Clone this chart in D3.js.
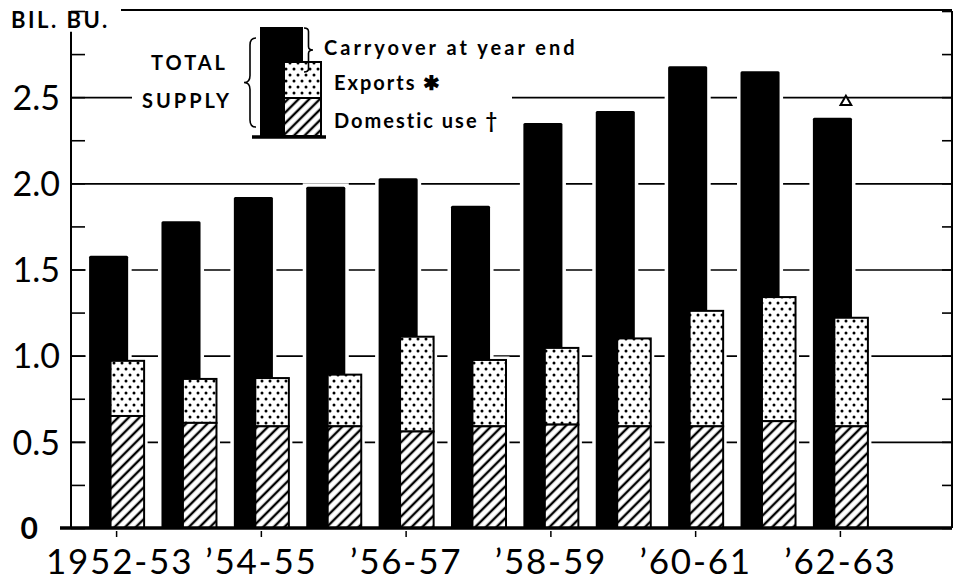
<!DOCTYPE html>
<html lang="en">
<head>
<meta charset="UTF-8">
<title>Wheat: Total Supply and Use</title>
<script src="https://cdn.jsdelivr.net/npm/d3@7"></script>
<style>
   body { margin: 0; background: #fff; }
   text { font-family: Lato, sans-serif; fill: #000; }
   .y-axis text { font-size: 34px; }
   .x-axis text { font-size: 35px; letter-spacing: 1.8px; }
   .legend text { font-size: 20px; font-weight: bold; letter-spacing: 2px; }
</style>
</head>
<body>
<svg id="chart" width="962" height="581"></svg>
<script>
// data (billion bushels)
const years = ['1952-53', '1953-54', '1954-55', '1955-56', '1956-57', '1957-58',
               '1958-59', '1959-60', '1960-61', '1961-62', '1962-63']
const totalSupply = [1.58, 1.78, 1.92, 1.98, 2.03, 1.87, 2.35, 2.42, 2.68, 2.65, 2.38]
const domesticUse = [0.65, 0.61, 0.59, 0.59, 0.56, 0.59, 0.60, 0.59, 0.59, 0.62, 0.59]
const exportsUse  = [0.32, 0.255, 0.28, 0.30, 0.55, 0.385, 0.445, 0.51, 0.67, 0.72, 0.63]
const xTickYears  = ['1952-53', '1954-55', '1956-57', '1958-59', '1960-61', '1962-63']
const xTickLabels = ['1952-53', '\u201954-55', '\u201956-57', '\u201958-59', '\u201960-61', '\u201962-63']
const yLabelTicks = [0, 0.5, 1.0, 1.5, 2.0, 2.5]
const yMinorTicks = [0, 0.25, 0.5, 0.75, 1.0, 1.25, 1.5, 1.75, 2.0, 2.25, 2.5, 2.75, 3.0]

const data = years.map((y, i) => ({
   year: y,
   supply: totalSupply[i],
   domestic: domesticUse[i],
   exports: exportsUse[i]
}))

const svg = d3.select('#chart')
const LEFT = 71, RIGHT = 952

// patterns
const defs = svg.append('defs')
const dots = defs.append('pattern')
   .attr('id', 'dots')
   .attr('patternUnits', 'userSpaceOnUse')
   .attr('width', 8).attr('height', 12)
dots.append('rect').attr('width', 8).attr('height', 12).attr('fill', '#fff')
dots.append('circle').attr('cx', 2).attr('cy', 3).attr('r', 1.5)
dots.append('circle').attr('cx', 6).attr('cy', 9).attr('r', 1.5)

const hatch = defs.append('pattern')
   .attr('id', 'hatch')
   .attr('patternUnits', 'userSpaceOnUse')
   .attr('width', 7.5).attr('height', 7.5)
   .attr('patternTransform', 'rotate(45)')
hatch.append('rect').attr('width', 7.5).attr('height', 7.5).attr('fill', '#fff')
hatch.append('line')
   .attr('x1', 3.75).attr('x2', 3.75).attr('y1', 0).attr('y2', 7.5)
   .attr('stroke', '#000').attr('stroke-width', 2.4)

// scales
const x = d3.scaleBand()
   .domain(years)
   .range([LEFT, 886])
   .paddingInner(0.24)
   .paddingOuter(0.25)

const y = d3.scaleLinear()
   .domain([0, 3])
   .range([528, 11])

const bw = x.bandwidth()
const blackX = d => x(d.year)
const blackW = bw * 0.71
const useX = d => x(d.year) + bw * 0.39
const useW = bw * 0.61

// grid lines at every half bushel
svg.append('g')
   .attr('transform', `translate(${LEFT},0)`)
   .call(d3.axisLeft(y).tickValues(yLabelTicks.slice(1)).tickSize(-(RIGHT - LEFT)).tickFormat(''))
   .call(g => g.select('.domain').remove())
   .call(g => g.selectAll('line').attr('stroke', '#000').attr('stroke-width', 1.6))

// left axis: minor ticks pointing inward + labels
const yAxis = svg.append('g')
   .attr('class', 'y-axis')
   .attr('transform', `translate(${LEFT},0)`)
   .call(d3.axisLeft(y).tickValues(yMinorTicks).tickSize(-14).tickPadding(11)
      .tickFormat(d => yLabelTicks.includes(d) ? (d === 0 ? '0' : d.toFixed(1)) : ''))
   .call(g => g.select('.domain').remove())
   .call(g => g.selectAll('line').attr('stroke', '#000').attr('stroke-width', 1.6))
yAxis.selectAll('text')
   .attr('font-family', null)
   .attr('font-size', null)
   .attr('dy', '0.36em')
yAxis.selectAll('.tick').filter(d => d === 0).select('text')
   .attr('x', -33)
   .style('font-size', '30px')
   .style('font-weight', 'bold')

svg.append('line')
   .attr('x1', LEFT).attr('x2', LEFT)
   .attr('y1', y(0)).attr('y2', y(2.88))
   .attr('stroke', '#000').attr('stroke-width', 2)

// right axis
svg.append('g')
   .attr('transform', `translate(${RIGHT},0)`)
   .call(d3.axisRight(y).tickValues(yMinorTicks).tickSize(-10).tickFormat(''))
   .call(g => g.select('.domain').attr('stroke-width', 2).attr('d', `M0,${y(3)}V${y(0)}`))
   .call(g => g.selectAll('line').attr('stroke', '#000').attr('stroke-width', 1.6))

// top frame line
svg.append('line')
   .attr('x1', 121).attr('x2', RIGHT)
   .attr('y1', y(3) - 1).attr('y2', y(3) - 1)
   .attr('stroke', '#000').attr('stroke-width', 2)

// white blank behind legend
svg.append('rect')
   .attr('x', 132).attr('y', 20).attr('width', 380).attr('height', 125)
   .attr('fill', '#fff')

// white halos so grid lines stop short of bars
const GAP = 3.5
svg.append('g').selectAll('rect')
   .data(data).join('rect')
   .attr('x', d => useX(d) - GAP).attr('width', useW + GAP * 2)
   .attr('y', d => y(d.domestic + d.exports) - GAP)
   .attr('height', d => y(0) - y(d.domestic + d.exports) + GAP)
   .attr('fill', '#fff')
svg.append('g').selectAll('rect')
   .data(data).join('rect')
   .attr('x', d => blackX(d) - GAP).attr('width', blackW + GAP * 2)
   .attr('y', d => y(d.supply) - GAP)
   .attr('height', d => y(0) - y(d.supply) + GAP)
   .attr('fill', '#fff')

// total supply bars
svg.append('g').selectAll('rect')
   .data(data).join('rect')
   .attr('x', blackX).attr('width', blackW)
   .attr('y', d => y(d.supply))
   .attr('height', d => y(0) - y(d.supply))
   .attr('rx', 1.5)
   .attr('fill', '#000')

// exports
svg.append('g').selectAll('rect')
   .data(data).join('rect')
   .attr('x', useX).attr('width', useW)
   .attr('y', d => y(d.domestic + d.exports))
   .attr('height', d => y(d.domestic) - y(d.domestic + d.exports))
   .attr('fill', 'url(#dots)')
   .attr('stroke', '#000').attr('stroke-width', 2)

// domestic use
svg.append('g').selectAll('rect')
   .data(data).join('rect')
   .attr('x', useX).attr('width', useW)
   .attr('y', d => y(d.domestic))
   .attr('height', d => y(0) - y(d.domestic))
   .attr('fill', 'url(#hatch)')
   .attr('stroke', '#000').attr('stroke-width', 2)

// footnote triangle on the last year
const last = data[data.length - 1]
svg.append('path')
   .attr('d', d3.symbol(d3.symbolTriangle, 50))
   .attr('transform', `translate(${x(last.year) + bw * 0.6},${y(last.supply) - 16})`)
   .attr('fill', '#fff')
   .attr('stroke', '#000')
   .attr('stroke-width', 2)

// baseline + x axis
svg.append('line')
   .attr('x1', 60).attr('x2', RIGHT)
   .attr('y1', y(0)).attr('y2', y(0))
   .attr('stroke', '#000').attr('stroke-width', 3.5)

const xAxis = svg.append('g')
   .attr('class', 'x-axis')
   .attr('transform', `translate(0,${y(0) + 3})`)
   .call(d3.axisBottom(x).tickValues(xTickYears).tickSize(6).tickPadding(12)
      .tickFormat(d => xTickLabels[xTickYears.indexOf(d)]))
   .call(g => g.select('.domain').remove())
   .call(g => g.selectAll('line').attr('stroke', '#000').attr('stroke-width', 1.5))
xAxis.selectAll('text')
   .attr('font-family', null)
   .attr('font-size', null)
xAxis.selectAll('.tick').filter(d => d === years[0]).select('text')
   .attr('dx', 3)

// unit label
svg.append('text')
   .attr('x', 11).attr('y', 28)
   .style('font-size', '22px').style('font-weight', 'bold').style('letter-spacing', '2.5px')
   .text('BIL. BU.')

// legend
const legend = svg.append('g').attr('class', 'legend')

legend.append('rect').attr('x', 260).attr('y', 27).attr('width', 43).attr('height', 109).attr('fill', '#000')
legend.append('rect').attr('x', 284).attr('y', 62).attr('width', 37).attr('height', 36)
   .attr('fill', 'url(#dots)').attr('stroke', '#000').attr('stroke-width', 2)
legend.append('rect').attr('x', 284).attr('y', 98).attr('width', 37).attr('height', 38)
   .attr('fill', 'url(#hatch)').attr('stroke', '#000').attr('stroke-width', 2)
legend.append('line').attr('x1', 252).attr('x2', 326).attr('y1', 137).attr('y2', 137)
   .attr('stroke', '#000').attr('stroke-width', 3.5)

function brace(xEdge, y0, y1, w) {
   const m = (y0 + y1) / 2, h = (y1 - y0) * 0.08
   const xm = xEdge + w / 2, xt = xEdge + w
   return `M${xEdge},${y0} Q${xm},${y0} ${xm},${y0 + h} L${xm},${m - h} Q${xm},${m} ${xt},${m}` +
      ` Q${xm},${m} ${xm},${m + h} L${xm},${y1 - h} Q${xm},${y1} ${xEdge},${y1}`
}
legend.append('path').attr('d', brace(256, 38, 127, -12))
   .attr('fill', 'none').attr('stroke', '#000').attr('stroke-width', 1.6)
legend.append('path').attr('d', brace(304, 28, 72, 9))
   .attr('fill', 'none').attr('stroke', '#000').attr('stroke-width', 1.6)

legend.append('text').attr('x', 228).attr('y', 70).attr('text-anchor', 'end')
   .style('letter-spacing', '3px').text('TOTAL')
legend.append('text').attr('x', 232).attr('y', 108).attr('text-anchor', 'end')
   .style('letter-spacing', '3px').text('SUPPLY')
legend.append('text').attr('x', 324).attr('y', 55)
   .style('letter-spacing', '3px').text('Carryover at year end')
legend.append('text').attr('x', 334).attr('y', 90).text('Exports \u2731')
legend.append('text').attr('x', 334).attr('y', 128).text('Domestic use \u2020')
</script>
</body>
</html>
